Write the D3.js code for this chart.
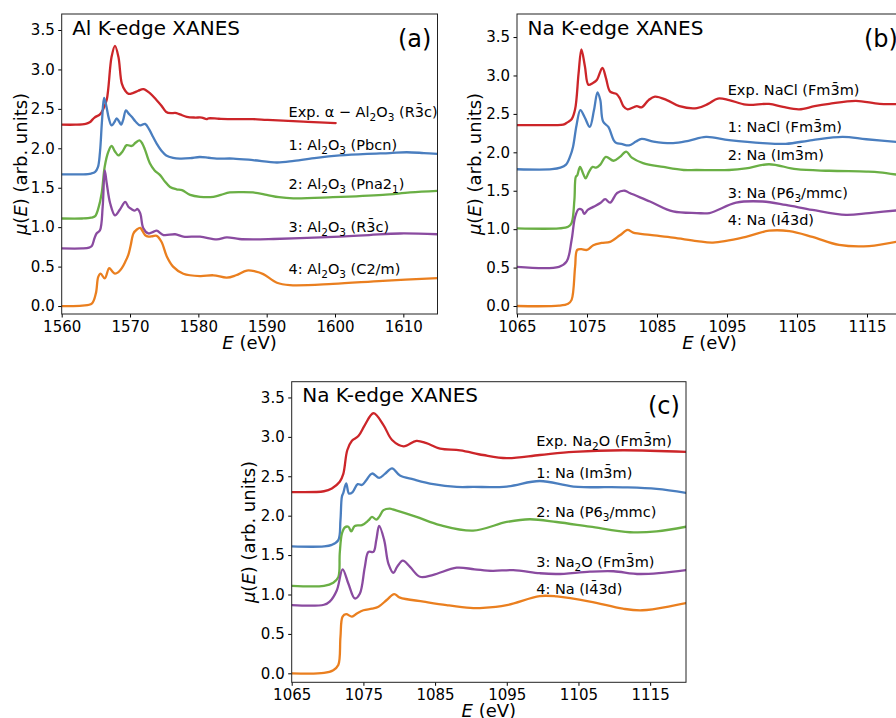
<!DOCTYPE html>
<html lang="en">
<head>
  <meta charset="utf-8">
  <title>XANES</title>
  <script src="https://cdn.jsdelivr.net/npm/d3@7"></script>
</head>
<style>
body { margin: 0; background: white; }
svg { display: block; font-family: "DejaVu Sans", sans-serif; }
.tick text { fill: #000; }
.tick line { stroke: #000; stroke-width: 1; }
.frame { fill: none; stroke: #222; stroke-width: 1; }
.curve { fill: none; stroke-width: 2.3; stroke-linejoin: round; stroke-linecap: round; }
</style>
<body>
<div class="chart"></div>
<script>
// colours for the five traces in each panel: exp, 1, 2, 3, 4
var colors = ["#cc2529", "#4a7ebf", "#6aaf45", "#8a4ba0", "#ea7f1f"];

// ---- panel (a) Al K-edge ----
var aTicksX = [1560, 1570, 1580, 1590, 1600, 1610];
var aLabels = ["Exp. α − Al_2O_3 (R3\u0304c)", "1: Al_2O_3 (Pbcn)", "2: Al_2O_3 (Pna2_1)", "3: Al_2O_3 (R3\u0304c)", "4: Al_2O_3 (C2/m)"];
var aLabelPos = [[1593.2, 2.40], [1593.2, 1.98], [1593.2, 1.48], [1593.2, 0.94], [1593.2, 0.41]];
var aExp = [[1560,2.30],[1562,2.30],[1563.5,2.31],[1564.1,2.33],[1564.8,2.39],[1565.6,2.43],[1566.1,2.50],[1566.6,2.62],[1567.3,3.16],[1567.8,3.30],[1568.3,3.16],[1568.8,2.82],[1569.3,2.73],[1569.8,2.69],[1570.4,2.70],[1571.2,2.73],[1571.95,2.75],[1572.9,2.70],[1573.9,2.61],[1574.6,2.54],[1575.3,2.46],[1576.0,2.445],[1576.6,2.45],[1577.3,2.43],[1578.3,2.40],[1579.5,2.39],[1580.5,2.39],[1581.2,2.37],[1581.5,2.38],[1583,2.375],[1585.1,2.37],[1588,2.37],[1590,2.36],[1592.4,2.35],[1596,2.335],[1600.1,2.32]];
var aPbcn = [[1560,1.67],[1563,1.67],[1564.3,1.68],[1564.9,1.70],[1565.3,1.76],[1565.6,1.95],[1565.9,2.35],[1566.2,2.64],[1566.5,2.55],[1566.9,2.38],[1567.3,2.29],[1567.7,2.33],[1568.05,2.38],[1568.4,2.34],[1568.7,2.30],[1569.0,2.36],[1569.4,2.48],[1569.8,2.44],[1570.25,2.40],[1570.8,2.34],[1571.5,2.29],[1572.2,2.31],[1572.8,2.24],[1573.4,2.14],[1573.9,2.06],[1574.6,1.97],[1575.3,1.91],[1576.3,1.88],[1577.3,1.87],[1578.8,1.875],[1580.2,1.89],[1581.5,1.88],[1582.7,1.87],[1585.1,1.87],[1588,1.85],[1591.5,1.82],[1594,1.84],[1597.3,1.88],[1600.7,1.91],[1604.7,1.93],[1608,1.94],[1610.5,1.95],[1613,1.94],[1615,1.93]];
var aPna21 = [[1560,1.11],[1563,1.11],[1564.3,1.12],[1564.9,1.14],[1565.4,1.25],[1565.85,1.43],[1566.3,1.77],[1566.8,1.95],[1567.3,2.03],[1567.8,1.96],[1568.3,1.91],[1568.9,1.96],[1569.5,2.04],[1570.25,2.03],[1570.8,2.07],[1571.4,2.10],[1571.8,2.06],[1572.2,1.98],[1572.9,1.81],[1573.6,1.72],[1574.4,1.66],[1575.1,1.58],[1575.85,1.51],[1576.8,1.48],[1577.6,1.47],[1578.8,1.41],[1580.25,1.385],[1582.2,1.385],[1583.3,1.41],[1584.6,1.44],[1586.5,1.445],[1588,1.44],[1590,1.41],[1591.8,1.38],[1593.9,1.365],[1599.7,1.38],[1607,1.41],[1611,1.44],[1615,1.46]];
var aR3c = [[1560,0.73],[1563,0.73],[1564.0,0.74],[1564.4,0.76],[1564.8,0.86],[1565.1,0.92],[1565.6,0.96],[1566.0,1.26],[1566.3,1.72],[1566.6,1.55],[1567.1,1.30],[1567.8,1.15],[1568.5,1.22],[1569.3,1.32],[1569.75,1.26],[1570.2,1.23],[1570.7,1.21],[1571.1,1.23],[1571.5,1.175],[1571.95,0.985],[1572.7,0.92],[1573.4,0.94],[1573.9,0.955],[1574.9,0.90],[1576.6,0.91],[1577.8,0.88],[1580.25,0.88],[1582.7,0.845],[1584.15,0.87],[1586,0.85],[1588,0.845],[1591,0.85],[1594.9,0.86],[1600.7,0.88],[1605,0.90],[1609.5,0.92],[1615,0.91]];
var aC2m = [[1560,0.0],[1563,0.005],[1564.4,0.03],[1565.0,0.16],[1565.35,0.37],[1565.7,0.41],[1566.3,0.35],[1566.95,0.48],[1567.4,0.44],[1567.8,0.41],[1568.3,0.43],[1568.8,0.48],[1569.3,0.56],[1569.75,0.65],[1570.1,0.77],[1570.5,0.92],[1571.0,0.97],[1571.5,0.99],[1571.7,0.97],[1572.2,0.90],[1572.7,0.88],[1573.3,0.885],[1573.9,0.89],[1574.6,0.815],[1575.4,0.625],[1576.3,0.50],[1577.8,0.41],[1580.25,0.38],[1582.2,0.39],[1584.15,0.36],[1585.5,0.39],[1587.1,0.45],[1588.3,0.44],[1589.5,0.405],[1591.5,0.295],[1593.4,0.265],[1599.7,0.28],[1607,0.32],[1615,0.355]];

// ---- panel (b) Na K-edge, NaCl / Na ----
var naTicksX = [1065, 1075, 1085, 1095, 1105, 1115];
var bLabels = ["Exp. NaCl (Fm3\u0304m)", "1: NaCl (Fm3\u0304m)", "2: Na (Im3\u0304m)", "3: Na (P6_3/mmc)", "4: Na (I4\u03043d)"];
var bLabelPos = [[1095.1, 2.74], [1095.1, 2.26], [1095.1, 1.90], [1095.1, 1.40], [1095.1, 1.05]];
var bExp = [[1065,2.355],[1070,2.355],[1071.6,2.36],[1072.2,2.39],[1072.8,2.43],[1073.3,2.56],[1073.8,3.03],[1074.2,3.34],[1074.7,3.12],[1075.2,2.88],[1075.8,2.90],[1076.4,2.94],[1077.2,3.10],[1077.7,2.97],[1078.3,2.79],[1079.2,2.76],[1079.7,2.70],[1080.2,2.60],[1080.8,2.56],[1082.1,2.60],[1082.8,2.585],[1083.8,2.68],[1084.7,2.725],[1086.4,2.68],[1088.2,2.60],[1090.7,2.575],[1092.3,2.63],[1093.7,2.70],[1095.3,2.68],[1097.7,2.62],[1101,2.63],[1103,2.59],[1105.3,2.56],[1107.5,2.60],[1109.6,2.63],[1113.4,2.67],[1116.8,2.63],[1120,2.63]];
var bNaCl = [[1065,1.78],[1070,1.78],[1071.2,1.80],[1072,1.84],[1072.6,1.95],[1073,2.07],[1073.5,2.35],[1074.05,2.55],[1074.7,2.45],[1075.4,2.33],[1076.0,2.55],[1076.5,2.78],[1076.9,2.68],[1077.3,2.40],[1078.05,2.33],[1078.8,2.16],[1079.2,2.12],[1079.9,2.11],[1081,2.09],[1082,2.14],[1082.8,2.175],[1084.5,2.14],[1087.3,2.12],[1089.5,2.15],[1092,2.20],[1095.3,2.16],[1100.1,2.12],[1103.4,2.11],[1107.2,2.16],[1111.5,2.20],[1114.9,2.17],[1120,2.13]];
var bIm3m = [[1065,1.01],[1071,1.01],[1072.3,1.03],[1072.8,1.08],[1073.2,1.38],[1073.4,1.68],[1073.6,1.70],[1074,1.81],[1074.5,1.71],[1074.8,1.66],[1075.3,1.75],[1075.8,1.81],[1076.3,1.80],[1076.9,1.84],[1077.7,1.94],[1078.8,1.89],[1079.7,1.94],[1080.6,2.01],[1081.4,1.93],[1083,1.86],[1085.9,1.81],[1088.8,1.77],[1090.6,1.77],[1095.3,1.77],[1097.7,1.79],[1101,1.845],[1104.9,1.78],[1109.6,1.76],[1114.9,1.75],[1116.8,1.74],[1120,1.70]];
var bP63 = [[1065,0.51],[1071,0.51],[1072.1,0.58],[1072.8,0.86],[1073.3,1.16],[1073.8,1.26],[1074.3,1.25],[1074.6,1.20],[1075.1,1.25],[1075.9,1.29],[1076.9,1.34],[1077.6,1.39],[1078.3,1.345],[1079.3,1.47],[1080.4,1.50],[1081.1,1.47],[1084,1.36],[1087.3,1.23],[1090.7,1.21],[1092.5,1.21],[1096.3,1.345],[1100.1,1.36],[1103.4,1.315],[1107.2,1.25],[1112,1.185],[1115.3,1.21],[1120,1.25]];
var bI43d = [[1065,0],[1071,0.005],[1072.3,0.03],[1072.8,0.08],[1073.3,0.51],[1073.6,0.73],[1074.2,0.74],[1075,0.73],[1075.9,0.79],[1077.1,0.82],[1078.3,0.835],[1079.7,0.92],[1080.8,0.99],[1081.6,0.955],[1084,0.925],[1087.3,0.89],[1090.7,0.845],[1093,0.825],[1097.7,0.90],[1101,0.98],[1103.9,0.975],[1107.2,0.90],[1111,0.795],[1115.3,0.78],[1120,0.85]];

// ---- panel (c) Na K-edge, Na2O / Na ----
var cLabels = ["Exp. Na_2O (Fm3\u0304m)", "1: Na (Im3\u0304m)", "2: Na (P6_3/mmc)", "3: Na_2O (Fm3\u0304m)", "4: Na (I4\u03043d)"];
var cLabelPos = [[1099.1, 2.89], [1099.1, 2.48], [1099.1, 1.98], [1099.1, 1.35], [1099.1, 1.01]];
var cExp = [[1065,2.30],[1069.5,2.31],[1070.6,2.345],[1071.7,2.43],[1072.2,2.53],[1072.75,2.83],[1073.4,2.95],[1074.3,3.01],[1075.2,3.15],[1076.4,3.30],[1077.8,3.15],[1079,2.96],[1080.6,2.88],[1082.4,2.95],[1083.8,2.92],[1085.7,2.85],[1088.5,2.83],[1091.7,2.77],[1095,2.73],[1099.6,2.77],[1104.3,2.81],[1111.2,2.83],[1120,2.81]];
var cIm3m = [[1065,1.61],[1069.5,1.61],[1070.6,1.63],[1071.5,1.69],[1071.8,1.94],[1072.0,2.24],[1072.2,2.29],[1072.6,2.41],[1073.0,2.28],[1073.5,2.30],[1074.2,2.40],[1074.8,2.39],[1075.4,2.45],[1076.2,2.535],[1077.2,2.48],[1078,2.53],[1079,2.60],[1080.1,2.51],[1082,2.46],[1084.75,2.40],[1088,2.365],[1090.3,2.365],[1095,2.37],[1099.6,2.44],[1104.3,2.37],[1111.2,2.36],[1115.9,2.34],[1120,2.29]];
var cP63 = [[1065,1.11],[1069.5,1.11],[1070.8,1.15],[1071.5,1.22],[1071.7,1.52],[1072,1.77],[1072.4,1.85],[1072.9,1.86],[1073.3,1.80],[1073.8,1.87],[1074.8,1.88],[1075.7,1.94],[1076.2,1.985],[1076.8,1.95],[1077.2,1.985],[1077.8,2.07],[1078.7,2.09],[1079.1,2.08],[1082.4,1.985],[1085.7,1.88],[1090.3,1.81],[1095,1.92],[1098.2,1.955],[1101.95,1.92],[1106.6,1.86],[1112.2,1.79],[1115.9,1.80],[1120,1.86]];
var cNa2O = [[1065,0.865],[1069.5,0.87],[1070.3,0.91],[1071.3,1.055],[1072.1,1.32],[1072.9,1.14],[1073.8,0.95],[1074.5,1.01],[1075.2,1.35],[1075.7,1.54],[1076.4,1.54],[1076.8,1.69],[1077.2,1.87],[1077.9,1.69],[1078.5,1.39],[1079.2,1.275],[1079.7,1.35],[1080.5,1.43],[1081.5,1.35],[1082.9,1.225],[1084.75,1.25],[1088,1.34],[1090.5,1.32],[1093,1.30],[1095.9,1.31],[1099.6,1.27],[1102,1.26],[1106.6,1.29],[1109.9,1.295],[1113.6,1.26],[1120,1.31]];
var cI43d = [[1065,0],[1069.5,0.005],[1070.8,0.04],[1071.5,0.105],[1071.8,0.46],[1072.1,0.72],[1072.6,0.75],[1073.4,0.72],[1074.1,0.76],[1075,0.80],[1076.2,0.82],[1077.1,0.845],[1078.25,0.93],[1079.3,1.005],[1080.1,0.96],[1083.4,0.91],[1086.6,0.865],[1089.9,0.83],[1091.7,0.83],[1095,0.865],[1099.6,0.98],[1102,0.975],[1106.6,0.91],[1111.2,0.82],[1113.9,0.80],[1120,0.89]];

var yTicks = [0, 0.5, 1, 1.5, 2, 2.5, 3, 3.5];

var svg = d3.select(".chart").append("svg")
  .attr("width", 896)
  .attr("height", 718);

// write "Al_2O_3" style strings as tspans with subscripts
var addRichText = function(sel, str) {
  var parts = str.split(/_(\w)/);
  parts.forEach(function(p, i) {
    if (p === "") return;
    if (i % 2 === 1) {
      sel.append("tspan").attr("dy", 4).attr("font-size", 10.5).text(p);
      sel.append("tspan").attr("dy", -4).text("\u200b");
    } else {
      sel.append("tspan").text(p);
    }
  });
};

var drawPanel = function(p) {
  var g = svg.append("g");
  var x = d3.scaleLinear().domain(p.xDomain).range([p.left, p.right]);
  var y = d3.scaleLinear().domain(p.yDomain).range([p.bottom, p.top]);

  g.append("clipPath").attr("id", "clip-" + p.id)
    .append("rect")
    .attr("x", p.left).attr("y", p.top)
    .attr("width", p.right - p.left).attr("height", p.bottom - p.top);

  g.append("g")
    .attr("transform", "translate(0," + p.bottom + ")")
    .call(d3.axisBottom(x).tickValues(p.xTicks).tickSize(3.5).tickPadding(3.5).tickFormat(d3.format("d")))
    .call(function(a) { a.select(".domain").remove(); a.attr("font-family", null).attr("font-size", 15); });

  g.append("g")
    .attr("transform", "translate(" + p.left + ",0)")
    .call(d3.axisLeft(y).tickValues(yTicks).tickSize(3.5).tickPadding(3.5).tickFormat(d3.format(".1f")))
    .call(function(a) { a.select(".domain").remove(); a.attr("font-family", null).attr("font-size", 15); });

  var line = d3.line()
    .x(function(d) { return x(d[0]); })
    .y(function(d) { return y(d[1]); })
    .curve(d3.curveCatmullRom.alpha(0.5));

  g.append("g").attr("clip-path", "url(#clip-" + p.id + ")")
    .selectAll("path")
    .data(p.series)
    .enter()
    .append("path")
    .attr("class", "curve")
    .attr("stroke", function(d, i) { return colors[i]; })
    .attr("d", line);

  g.selectAll(".curve-label")
    .data(p.labels)
    .enter()
    .append("text")
    .attr("class", "curve-label")
    .attr("font-size", 14.5)
    .attr("x", function(d, i) { return x(p.labelPos[i][0]); })
    .attr("y", function(d, i) { return y(p.labelPos[i][1]); })
    .each(function(d) { addRichText(d3.select(this), d); });

  g.append("rect").attr("class", "frame")
    .attr("x", p.left).attr("y", p.top)
    .attr("width", p.right - p.left).attr("height", p.bottom - p.top);

  g.append("text")
    .attr("font-size", 20)
    .attr("x", p.left + 10.5).attr("y", p.top + 20.5)
    .text(p.title);

  g.append("text")
    .attr("font-size", 24)
    .attr("x", p.tagX).attr("y", p.top + 32.5)
    .text(p.tag);

  var yl = g.append("text")
    .attr("font-size", 18)
    .attr("text-anchor", "middle")
    .attr("transform", "translate(" + p.yLabelX + "," + ((p.top + p.bottom) / 2) + ") rotate(-90)");
  yl.append("tspan").attr("font-style", "italic").text("μ");
  yl.append("tspan").text("(");
  yl.append("tspan").attr("font-style", "italic").text("E");
  yl.append("tspan").text(") (arb. units)");

  var xl = g.append("text")
    .attr("font-size", 18)
    .attr("text-anchor", "middle")
    .attr("x", (p.left + p.right) / 2)
    .attr("y", p.bottom + 35);
  xl.append("tspan").attr("font-style", "italic").text("E");
  xl.append("tspan").text(" (eV)");
};

drawPanel({
  id: "a", left: 61.7, right: 437.5, top: 14, bottom: 314,
  xDomain: [1560, 1615], yDomain: [-0.101, 3.703], xTicks: aTicksX,
  series: [aExp, aPbcn, aPna21, aR3c, aC2m],
  labels: aLabels, labelPos: aLabelPos,
  title: "Al K-edge XANES", tag: "(a)", tagX: 398, yLabelX: 27
});

drawPanel({
  id: "b", left: 517, right: 902, top: 14, bottom: 314,
  xDomain: [1065, 1120], yDomain: [-0.104, 3.80], xTicks: naTicksX,
  series: [bExp, bNaCl, bIm3m, bP63, bI43d],
  labels: bLabels, labelPos: bLabelPos,
  title: "Na K-edge XANES", tag: "(b)", tagX: 864, yLabelX: 481
});

drawPanel({
  id: "c", left: 291.7, right: 686, top: 381.7, bottom: 682.3,
  xDomain: [1065, 1120], yDomain: [-0.114, 3.70], xTicks: naTicksX,
  series: [cExp, cIm3m, cP63, cNa2O, cI43d],
  labels: cLabels, labelPos: cLabelPos,
  title: "Na K-edge XANES", tag: "(c)", tagX: 648, yLabelX: 254.5
});
</script>
</body>
</html>
